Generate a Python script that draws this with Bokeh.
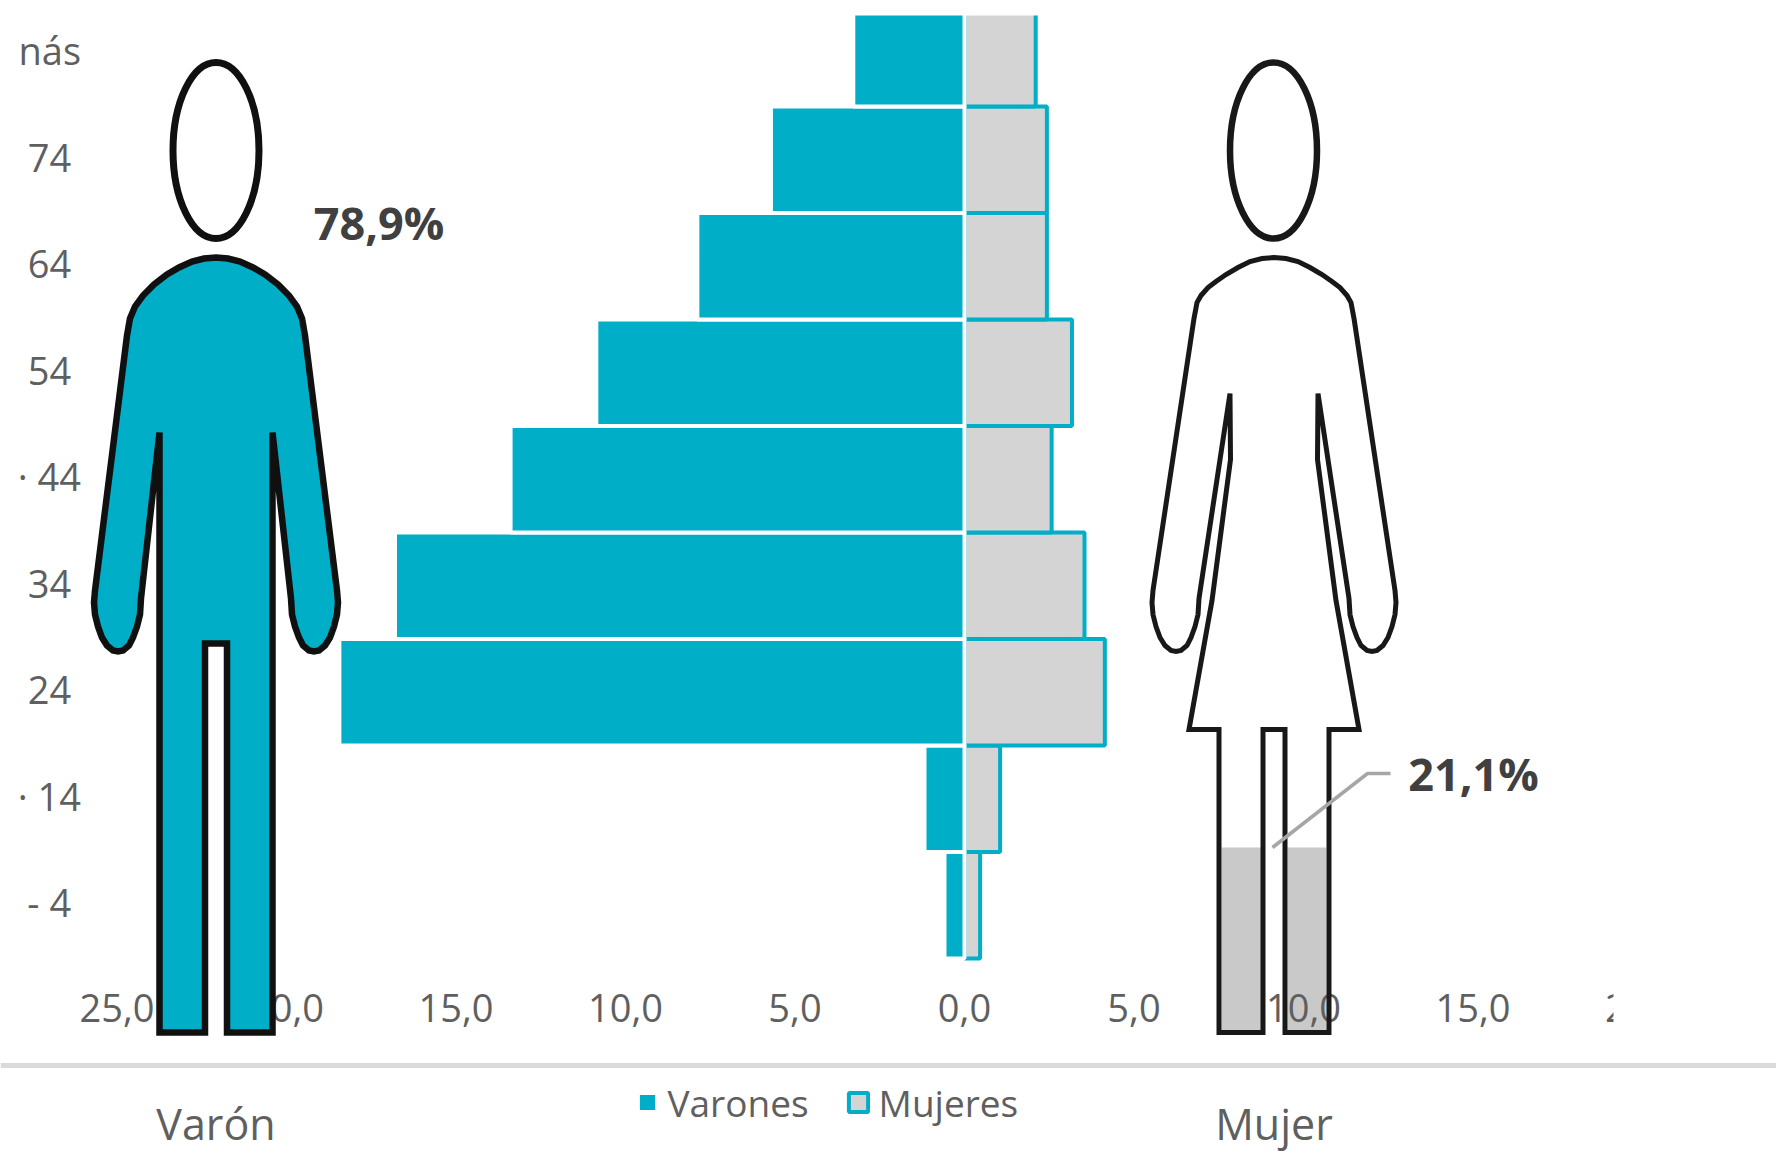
from bokeh.plotting import figure
from bokeh.models import Range1d, LinearAxis, FixedTicker, Legend, LegendItem
from bokeh.core.properties import value
from bokeh.embed import file_html
from bokeh.resources import INLINE

# ---- data (bottom to top)
age_labels = ["- 4\u00a0", "· 14", "24\u00a0", "34\u00a0", "· 44", "54\u00a0", "64\u00a0", "74\u00a0", "nás"]
varones = [0.59, 1.18, 18.44, 16.80, 13.39, 10.86, 7.88, 5.71, 3.28]
mujeres = [0.46, 1.05, 4.14, 3.54, 2.57, 3.17, 2.43, 2.43, 2.10]
x_ticks = [-25, -20, -15, -10, -5, 0, 5, 10, 15, 20]
x_tick_labels = ["25,0", "20,0", "15,0", "10,0", "5,0", "0,0", "5,0", "10,0", "15,0", "20,0"]
pct_varon = "78,9%"
pct_mujer = "21,1%"

TEAL = "#00AEC7"
GRAY = "#D4D4D4"
FONT = "Open Sans"
TXT = "#5F5F5F"

# page-pixel helpers
W, H = 1776, 1153
X0, PX_PER_UNIT = 964.0, 33.9
Y0, PX_PER_ROW = 904.75, 106.5
FRAME_TOP = 8
BAR_TOP = 15
to_x = lambda px: (px - X0) / PX_PER_UNIT
to_y = lambda py: (Y0 - py) / PX_PER_ROW

p = figure(width=W, height=H, output_backend="svg", toolbar_location=None,
           x_axis_location=None, y_axis_location=None,
           x_range=Range1d(to_x(0), to_x(W)),
           y_range=Range1d(to_y(H), to_y(FRAME_TOP)),
           min_border_left=0, min_border_right=0, min_border_bottom=0, min_border_top=FRAME_TOP)
p.grid.visible = False
p.outline_line_color = None
p.background_fill_color = "white"
p.extra_x_ranges = {"px": Range1d(0, W)}
p.extra_y_ranges = {"py": Range1d(H, FRAME_TOP)}
PX = dict(x_range_name="px", y_range_name="py")

# ---- bars
rows = list(range(len(age_labels)))
r_m = p.hbar(y=rows, left=0, right=mujeres, height=1.0, fill_color=GRAY,
             line_color=TEAL, line_width=4)
r_v = p.hbar(y=rows, left=[-v for v in varones], right=0, height=1.0, fill_color=TEAL,
             line_color="white", line_width=4)

# the chart area of the reference crops the top bar
p.quad(left=[700], right=[1150], top=[FRAME_TOP], bottom=[BAR_TOP - 3], fill_color="white",
       line_color="white", line_width=6, level="overlay", **PX)

# ---- axes
label_lift = 3 / PX_PER_ROW
y_ticks = [r + label_lift for r in rows]
xaxis = LinearAxis(fixed_location=to_y(993.5), ticker=FixedTicker(ticks=x_ticks),
                   major_label_overrides=dict(zip(x_ticks, x_tick_labels)))
yaxis = LinearAxis(fixed_location=to_x(80.5), ticker=FixedTicker(ticks=y_ticks),
                   major_label_overrides=dict(zip(y_ticks, age_labels)))
for ax in (xaxis, yaxis):
    ax.axis_line_color = None
    ax.major_tick_line_color = None
    ax.minor_tick_line_color = None
    ax.major_tick_out = 0
    ax.major_tick_in = 0
    ax.major_label_standoff = 0
    ax.major_label_text_font = FONT
    ax.major_label_text_font_size = "38px"
    ax.major_label_text_color = TXT
p.add_layout(xaxis, "below")
p.add_layout(yaxis, "left")


# ---- silhouettes (decoration, in page pixels)
def mirror(cx, half):
    right = [(cx + d, y) for d, y in half]
    left = [(cx - d, y) for d, y in reversed(half)]
    pts = right + left
    return [a for a, _ in pts], [b for _, b in pts]


hand = [(121, 590), (122, 602), (121, 614), (118, 626), (114, 637), (109, 645), (103, 650), (98, 651),
        (93, 650), (87, 645), (83, 637), (79, 626), (76, 614), (75, 598)]
man_half = [(0, 257), (12, 258), (24, 261), (37, 267), (49, 274), (62, 284), (73, 295), (81, 306), (86, 318),
            (89, 335)] + hand + [(56.5, 432), (56.5, 1032), (11, 1032), (11, 643)]
woman_half = [(0, 257), (12, 258), (24, 261), (36, 267), (48, 274), (58, 281), (66, 287), (73, 295), (77, 302),
              (80, 318)] + hand + [(44, 393), (43.5, 459), (62, 600), (85, 729), (55, 729), (55, 1032),
                                   (11, 1032), (11, 729)]

mx, my = mirror(215.5, man_half)
p.patch(mx, my, fill_color=TEAL, line_color="#101010", line_width=6.5, line_join="miter", level="overlay", **PX)
p.ellipse(x=[215.5], y=[150], width=[86], height=[176], fill_color="white",
          line_color="#101010", line_width=7, level="overlay", **PX)

# woman's partial fill
p.quad(left=[1221, 1287], right=[1261, 1326], top=[847, 847], bottom=[1030, 1030],
       fill_color="#C9C9C9", line_color=None, **PX)
wx, wy = mirror(1273.5, woman_half)
p.patch(wx, wy, fill_alpha=0, line_color="#181818", line_width=5, line_join="miter", level="overlay", **PX)
p.ellipse(x=[1273], y=[150], width=[87], height=[176], fill_color="white",
          line_color="#181818", line_width=6.5, level="overlay", **PX)

# separator
p.segment(x0=[0], x1=[W], y0=[1065], y1=[1065], line_color="#DADADA", line_width=5, **PX)

# crop of the last tick label
p.quad(left=[1613], right=[1700], top=[985], bottom=[1035], fill_color="white", line_color=None,
       level="overlay", **PX)

# leader
p.line(x=[1272, 1367, 1390], y=[847, 773, 773], line_color="#A6A6A6", line_width=3.5, level="overlay", **PX)

# ---- texts
p.text(x=[378.5], y=[222], text=[pct_varon], text_font=value(FONT), text_font_style="bold",
       text_font_size="45px", text_color="#404040", text_align="center", text_baseline="middle",
       level="overlay", **PX)
p.text(x=[1473], y=[773], text=[pct_mujer], text_font=value(FONT), text_font_style="bold",
       text_font_size="45px", text_color="#404040", text_align="center", text_baseline="middle",
       level="overlay", **PX)
p.text(x=[215.5, 1273.5], y=[1123, 1123], text=["Varón", "Mujer"], text_font=value(FONT),
       text_font_size="43px", text_color=TXT, text_align="center", text_baseline="middle", **PX)

# ---- legend
legend = Legend(items=[LegendItem(label="Varones", renderers=[r_v]), LegendItem(label="Mujeres", renderers=[r_m])],
                orientation="horizontal", location=(634.5, 25.5), border_line_color=None,
                background_fill_alpha=0, padding=0, margin=0, spacing=37,
                glyph_width=24, glyph_height=24, label_standoff=9,
                label_text_font=FONT, label_text_font_size="37px", label_text_color=TXT)
p.add_layout(legend, "center")

open("out.html", "w").write(file_html(p, INLINE))
